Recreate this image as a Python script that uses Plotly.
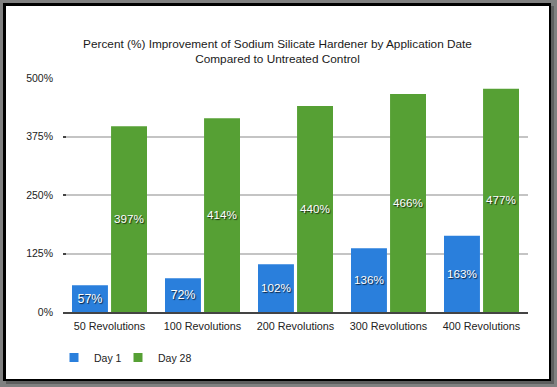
import plotly.graph_objects as go

categories = ["50 Revolutions", "100 Revolutions", "200 Revolutions", "300 Revolutions", "400 Revolutions"]
day1 = [57, 72, 102, 136, 163]
day28 = [397, 414, 440, 466, 477]
y_ticks = [0, 125, 250, 375, 500]
y_tick_text = ["0%", "125%", "250%", "375%", "500%"]
series_names = ["Day 1", "Day 28"]
title_text = "Percent (%) Improvement of Sodium Silicate Hardener by Application Date<br>Compared to Untreated Control"

W, H = 557, 387
L, R, T, B = 63, 528, 78, 312


def px(x):
    return (x - L) / (R - L)


def py(y):
    return (B - y) / (B - T)


font_fam = "Liberation Sans, Arial, Helvetica, sans-serif"
shadow = "1px 1px 1px rgba(0,0,0,0.75)"
colors = ["#2a7fdc", "#56a034"]
legend_ids = ["legend", "legend2"]

fig = go.Figure()
for name, vals, col in zip(series_names, [day1, day28], colors):
    fig.add_trace(go.Bar(
        name=name, x=categories, y=vals, showlegend=False,
        marker=dict(color=col, line=dict(width=0)),
        text=[f"{v}%" for v in vals], textposition="inside", insidetextanchor="middle",
        textfont=dict(color="white", size=12.5, family=font_fam, shadow=shadow),
        textangle=0, hoverinfo="x+y+name",
    ))
# legend entries with small square swatches
for name, col, lg in zip(series_names, colors, legend_ids):
    fig.add_trace(go.Scatter(
        name=name, x=[None], y=[None], mode="markers",
        marker=dict(symbol="square", size=9, color=col),
        showlegend=True, hoverinfo="skip", legend=lg,
    ))

shapes = [
    dict(type="rect", xref="paper", yref="paper", layer="below",
         x0=px(6), x1=px(554), y0=py(6), y1=py(384),
         fillcolor="#5e5e5e", line=dict(width=0)),
    dict(type="rect", xref="paper", yref="paper", layer="below",
         x0=px(3), x1=px(551), y0=py(3), y1=py(381),
         fillcolor="#000000", line=dict(width=0)),
    dict(type="rect", xref="paper", yref="paper", layer="below",
         x0=px(6), x1=px(549), y0=py(6), y1=py(379),
         fillcolor="#ffffff", line=dict(width=0)),
]

legend_common = dict(orientation="h", xanchor="left", y=py(343), yanchor="top",
                     font=dict(size=10.5, color="#222222", family=font_fam),
                     bgcolor="rgba(0,0,0,0)", itemwidth=30)

fig.update_layout(
    width=W, height=H,
    margin=dict(l=L, r=W - R, t=T, b=H - B, pad=0, autoexpand=False),
    paper_bgcolor="#808080",
    plot_bgcolor="rgba(0,0,0,0)",
    shapes=shapes,
    barmode="group", bargap=0.16, bargroupgap=0.08,
    font=dict(family=font_fam, color="#222222", size=11),
    title=dict(text=title_text, x=px(277.5), xref="paper", xanchor="center",
               y=1 - 48 / H, yanchor="top",
               font=dict(size=11.8, color="#1a1a1a", family=font_fam)),
    showlegend=True,
    legend=dict(x=px(54), **legend_common),
    legend2=dict(x=px(118), **legend_common),
    xaxis=dict(showline=True, linecolor="#444444", linewidth=2, ticks="",
               tickfont=dict(size=10.8, color="#222222"), showgrid=False, fixedrange=True,
               ticklabelstandoff=3),
    yaxis=dict(range=[0, 500], tickmode="array", tickvals=y_ticks, ticktext=y_tick_text,
               showgrid=True, gridcolor="#c4c4c4", gridwidth=2, zeroline=False, showline=False,
               ticks="inside", ticklen=3, tickwidth=2, tickcolor="#444444",
               tickfont=dict(size=10.5, color="#222222"), ticklabelstandoff=9,
               fixedrange=True),
)

fig.write_html("out.html", config={"displayModeBar": False},
               post_script="document.body.style.margin='0';document.body.style.overflow='hidden';")
